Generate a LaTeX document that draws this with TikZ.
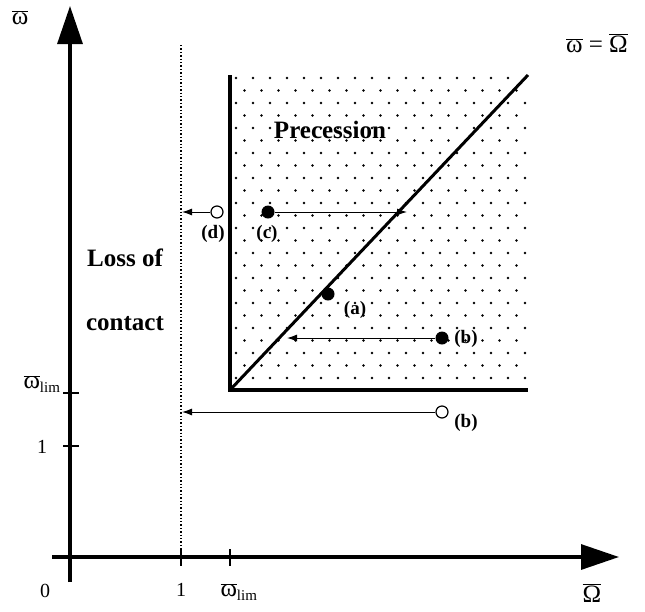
\documentclass[tikz,border=0pt]{standalone}
\usepackage{fontspec}
\setmainfont{Liberation Serif}
\usetikzlibrary{arrows.meta}
\newcommand{\wbar}{\ensuremath{\overline{\hbox{ω}}}}
\newcommand{\Wbar}{\ensuremath{\overline{\hbox{Ω}}}}
\newcommand{\wlim}{\ensuremath{\overline{\hbox{ω}}}\raisebox{-4pt}{\fontsize{15}{15}\selectfont lim}}
\begin{document}
\begin{tikzpicture}[x=1pt,y=-1pt,
  axis/.style={line width=3.2pt},
  thick border/.style={line width=3.2pt},
  tick/.style={line width=2.5pt},
  bigtip/.style={-{Triangle[length=38pt,width=25pt]}},
  move/.style={line width=1pt,-{Latex[length=10pt,width=7pt]}},
  full/.style={circle,fill=black,inner sep=0pt,minimum size=13pt},
  open/.style={circle,draw=black,line width=1.2pt,fill=white,inner sep=0pt,minimum size=12pt},
  lab/.style={font=\fontsize{19}{21}\selectfont\bfseries},
  big/.style={font=\fontsize{25}{28}\selectfont\bfseries},
  axlab/.style={font=\fontsize{20}{22}\selectfont},
  omlab/.style={font=\fontsize{25}{27}\selectfont}]
\useasboundingbox (0,0) rectangle (645,611);
% dotted pattern
\begin{scope}
\clip (232,75) rectangle (528,388);
\foreach \r in {0,...,25}{
  \pgfmathsetmacro{\yy}{78+12.5*\r}
  \pgfmathsetmacro{\off}{mod(\r,2)*8.5}
  \foreach \c in {0,...,18}{
    \fill ({236+\off+17*\c},\yy) circle (1.3pt);
  }
}
\end{scope}
% region borders
\coordinate (O) at (230,390);
\coordinate (TL) at (230,75);
\coordinate (BR) at (528,390);
\coordinate (DE) at (528,75);
\draw[thick border] (TL) -- (O) -- (BR);
\draw[line width=3pt] (O) -- (DE);
% dotted line at 1
\coordinate (D1) at (181,45);
\coordinate (D2) at (181,557);
\draw[dotted,line width=1.4pt] (D1) -- (D2);
% axes
\coordinate (yb) at (70,582);
\coordinate (yt) at (70,6);
\coordinate (xl) at (52,557);
\coordinate (xr) at (619,557);
\draw[axis,bigtip] (yb) -- (yt);
\draw[axis,bigtip] (xl) -- (xr);
% ticks
\foreach \yy in {393,446}{
  \draw[tick] (63,\yy) -- (79,\yy);
}
\foreach \xx in {181,230}{
  \draw[tick] (\xx,549) -- (\xx,566);
}
% points
\node[full] (a) at (328,294) {};
\node[full] (b) at (442,338) {};
\node[full] (c) at (268,212) {};
\node[open] (d) at (217,212) {};
\node[open] (b2) at (442,412) {};
\coordinate (bend) at (287,338);
\coordinate (cend) at (407,212);
\coordinate (dend) at (182,212);
\coordinate (b2end) at (182,412);
\draw[move] (b) -- (bend);
\draw[move] (c) -- (cend);
\draw[move] (d) -- (dend);
\draw[move] (b2) -- (b2end);
% labels
\node[lab] (la) at (355,310) {(a)};
\node[lab] (lb) at (466,339) {(b)};
\node[lab] (lc) at (267,234) {(c)};
\node[lab] (ld) at (213,234) {(d)};
\node[lab] (lb2) at (466,423) {(b)};
\node[big] (prec) at (330,130) {Precession};
\node[big] (loss1) at (125,258) {Loss of};
\node[big] (loss2) at (125,324) {contact};
\node[omlab] (yl) at (20,18) {\wbar};
\node[omlab] (eq) at (597,43) {\wbar\ = \Wbar};
\node[omlab,anchor=west] (ylim) at (20,384) {\wlim};
\node[axlab] (y1) at (42,447) {1};
\node[axlab] (x0) at (45,591) {0};
\node[axlab] (x1) at (181,590) {1};
\node[omlab,anchor=west] (xlim) at (217,592) {\wlim};
\node[omlab] (xl2) at (592,593) {\Wbar};
\end{tikzpicture}
\end{document}
